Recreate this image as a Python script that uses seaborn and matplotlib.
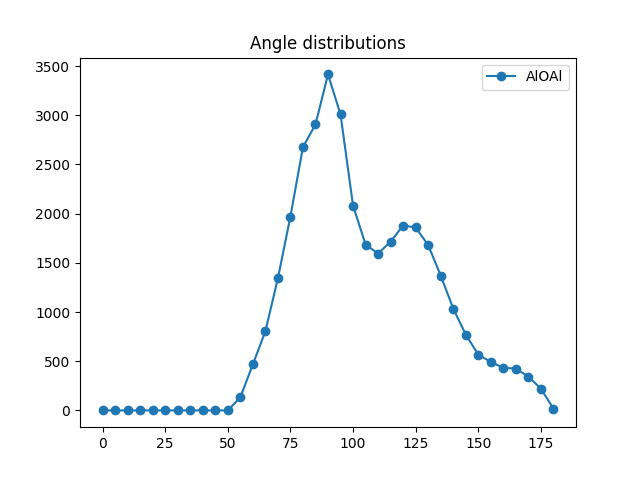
import numpy as np
import pandas as pd
import seaborn as sns
import matplotlib
matplotlib.use("Agg")
import matplotlib.pyplot as plt

# bond angle bins (degrees) and counts
angles = list(range(0, 181, 5))
counts = [0, 0, 0, 0, 0, 0, 0, 0, 0, 0, 0,
          132, 468, 804, 1343, 1970, 2676, 2906, 3415, 3008,
          2082, 1686, 1594, 1716, 1879, 1859, 1679, 1370, 1035,
          770, 567, 492, 434, 424, 343, 221, 17]
label = "AlOAl"

df = pd.DataFrame({"angle": angles, "count": counts})

fig, ax = plt.subplots(figsize=(6.4, 4.8), dpi=100)
sns.lineplot(data=df, x="angle", y="count", ax=ax, marker="o",
             markersize=6, markeredgecolor="#1f77b4", markeredgewidth=1,
             color="#1f77b4", linewidth=1.5, label=label)
ax.set_title("Angle distributions")
ax.set_xlabel("")
ax.set_ylabel("")
ax.legend(loc="upper right")

plt.savefig("out.png", dpi=100)
plt.close()
